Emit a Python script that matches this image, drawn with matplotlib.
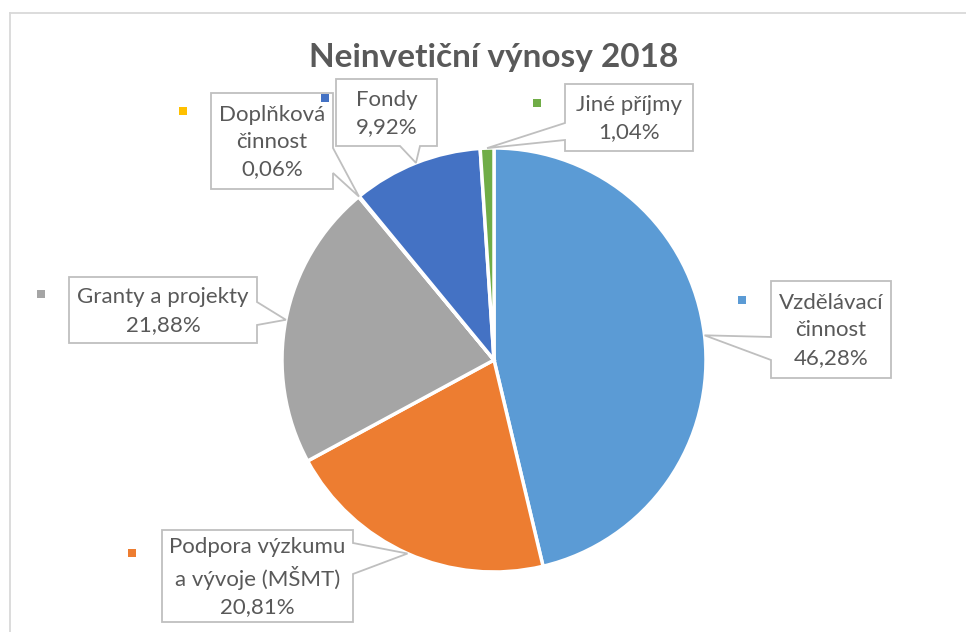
import numpy as np
import matplotlib.pyplot as plt
from matplotlib.patches import Polygon, Rectangle
from matplotlib.lines import Line2D

# ==========================================
# data
# ==========================================
TITLE = "Neinvetiční výnosy 2018"
labels = ["Vzdělávací\nčinnost", "Podpora výzkumu\na vývoje (MŠMT)", "Granty a projekty",
          "Doplňková\nčinnost", "Fondy", "Jiné příjmy"]
shares = [46.28, 20.81, 21.88, 0.06, 9.92, 1.04]
colors = ["#5B9BD5", "#ED7D31", "#A5A5A5", "#FFC000", "#4472C4", "#70AD47"]

# ==========================================
# layout (pixels, origin top-left)
# ==========================================
W, H = 966, 632
CX, CY, R = 494, 360, 212
# label boxes: left, top, right, bottom
boxes = [(771, 281, 891, 378), (162, 530, 353, 622), (69, 277, 257, 343),
         (211, 93, 333, 189), (336, 79, 437, 146), (565, 84, 693, 151)]
# callout pointer: side of box, start / end of the base along that side
pointers = [("left", 337, 360), ("right", 543, 574), ("right", 302, 325),
            ("right", 148, 173), ("bottom", 400, 420), ("left", 123, 140)]
# legend key squares next to the labels
keys = [(742, 300), (132, 553), (41, 294), (183, 111), (325, 98), (537, 103)]

TXT = "#595959"
EDGE = "#BFBFBF"
FONT = ["Lato", "DejaVu Sans"]


def fy(y):
    return H - y


def callout(box, ptr, tip):
    l, t, r, b = box
    side, a, c = ptr
    if side == "left":
        pts = [(l, t), (r, t), (r, b), (l, b), (l, c), tip, (l, a)]
    elif side == "right":
        pts = [(l, t), (r, t), (r, a), tip, (r, c), (r, b), (l, b)]
    else:
        pts = [(l, t), (r, t), (r, b), (c, b), tip, (a, b), (l, b)]
    return [(x, fy(y)) for x, y in pts]


fig = plt.figure(figsize=(W / 100, H / 100), dpi=100)
ax = fig.add_axes([0, 0, 1, 1])

wedges, _ = ax.pie(shares, colors=colors, startangle=90, counterclock=False,
                   center=(CX, fy(CY)), radius=R,
                   wedgeprops=dict(edgecolor="white", linewidth=2.5))
ax.set_xlim(0, W)
ax.set_ylim(0, H)
ax.set_aspect("auto")
ax.axis("off")

# chart frame (only top and left edge visible in the crop)
fig.add_artist(Line2D([10 / W, 10 / W], [0, 1 - 13 / H], transform=fig.transFigure,
                      color="#D9D9D9", lw=1.3))
fig.add_artist(Line2D([10 / W, 1], [1 - 13 / H, 1 - 13 / H], transform=fig.transFigure,
                      color="#D9D9D9", lw=1.3))

for w, lab, val, col, box, ptr, key in zip(wedges, labels, shares, colors, boxes, pointers, keys):
    mid = np.deg2rad((w.theta1 + w.theta2) / 2)
    tip = (CX + R * np.cos(mid), CY - R * np.sin(mid))
    ax.add_patch(Polygon(callout(box, ptr, tip), closed=True, facecolor="white",
                         edgecolor=EDGE, lw=1.3, zorder=3))
    l, t, r, b = box
    ax.text((l + r) / 2, fy((t + b) / 2 + 1), f"{lab}\n{val:.2f}%".replace(".", ","),
            ha="center", va="center", color=TXT, fontsize=16, family=FONT,
            linespacing=1.45, zorder=4)
    ax.add_patch(Rectangle((key[0] - 4, fy(key[1]) - 4), 8, 8, facecolor=col,
                           edgecolor="none", zorder=4))

fig.text(CX / W, 1 - 58 / H, TITLE, ha="center", va="center", fontsize=24,
         fontweight="bold", color=TXT, family=FONT)

fig.savefig("out.png", dpi=100, facecolor="white")
